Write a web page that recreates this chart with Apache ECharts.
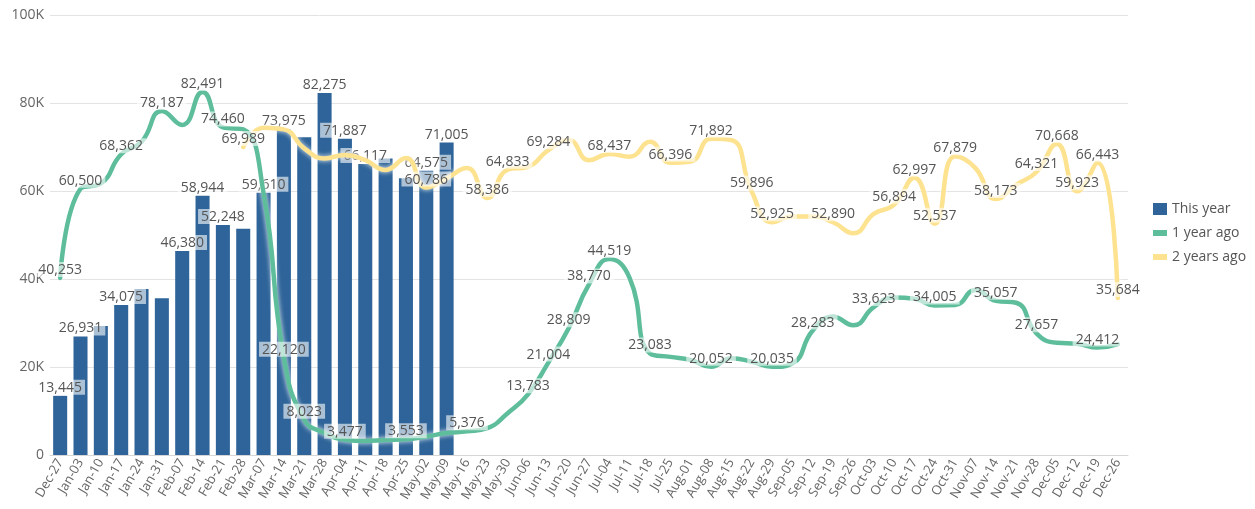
<!DOCTYPE html>
<html>
<head>
<meta charset="utf-8">
<script src="https://cdn.jsdelivr.net/npm/echarts@6/dist/echarts.min.js"></script>
<style>
  html, body { margin: 0; padding: 0; background: #fff; }
  #main { width: 1255px; height: 509px; }
</style>
</head>
<body>
<div id="main"></div>
<script>
// 周次
var weeks = ['Dec-27', 'Jan-03', 'Jan-10', 'Jan-17', 'Jan-24', 'Jan-31', 'Feb-07', 'Feb-14', 'Feb-21', 'Feb-28',
    'Mar-07', 'Mar-14', 'Mar-21', 'Mar-28', 'Apr-04', 'Apr-11', 'Apr-18', 'Apr-25', 'May-02', 'May-09',
    'May-16', 'May-23', 'May-30', 'Jun-06', 'Jun-13', 'Jun-20', 'Jun-27', 'Jul-04', 'Jul-11', 'Jul-18',
    'Jul-25', 'Aug-01', 'Aug-08', 'Aug-15', 'Aug-22', 'Aug-29', 'Sep-05', 'Sep-12', 'Sep-19', 'Sep-26',
    'Oct-03', 'Oct-10', 'Oct-17', 'Oct-24', 'Oct-31', 'Nov-07', 'Nov-14', 'Nov-21', 'Nov-28', 'Dec-05',
    'Dec-12', 'Dec-19', 'Dec-26'];

var thisYear = [13445, 26931, 29300, 34075, 37700, 35600, 46380, 58944, 52248, 51400,
    59610, 73975, 72200, 82275, 71887, 66117, 67400, 62900, 64575, 71005];

var oneYearAgo = [40253, 60500, 61700, 68362, 71200, 78187, 75000, 82491, 74460, 74000,
    59500, 22120, 8023, 5000, 3477, 3200, 3400, 3553, 4200, 5000,
    5376, 6100, 9500, 13783, 21004, 28809, 38770, 44519, 40200, 23083,
    22300, 21600, 20052, 22000, 21200, 20035, 20800, 28283, 31400, 29500,
    33623, 35800, 35500, 34005, 34100, 37500, 35057, 34600, 27657, 25500,
    25300, 24412, 25200];

var twoYearsAgo = ['-', '-', '-', '-', '-', '-', '-', '-', '-', 69989,
    74400, 74000, 69700, 67400, 68200, 67000, 64800, 67500, 60786, 62900,
    65200, 58386, 64833, 65500, 69284, 71600, 67000, 68437, 67800, 71200,
    66396, 66700, 71892, 71600, 59896, 52925, 54200, 54200, 52890, 50400,
    54800, 56894, 62997, 52537, 67879, 65200, 58173, 61400, 64321, 70668,
    59923, 66443, 35684];

// 显示数值标签的位置
var thisYearLabels = [0, 1, 3, 6, 7, 8, 10, 11, 13, 14, 15, 18, 19];
var oneYearLabels = [0, 1, 3, 5, 7, 8, 11, 12, 14, 17, 20, 23, 24, 25, 26, 27, 29, 32, 35, 37, 40, 43, 46, 48, 51];
var twoYearsLabels = [9, 18, 21, 22, 24, 27, 30, 32, 34, 35, 38, 41, 42, 43, 44, 46, 48, 49, 50, 51, 52];

var FONT = '"Open Sans", "Noto Sans", sans-serif';

// 给指定的点加标签
function withLabels(values, idx) {
    return values.map(function (v, i) {
        if (idx.indexOf(i) >= 0 && v !== '-') {
            return {value: v, label: {show: true}};
        }
        return v;
    });
}

var pointLabel = {
    position: 'top',
    distance: 1,
    color: '#555',
    fontSize: 14,
    fontFamily: FONT,
    backgroundColor: 'rgba(255,255,255,0.6)',
    padding: [1, 3, 0, 3],
    formatter: function (p) {
        return echarts.format.addCommas(p.value);
    }
};

function lineSeries(name, color, values, idx) {
    return {
        name: name,
        type: 'line',
        smooth: 0.5,
        symbol: 'circle',
        symbolSize: 0,
        showSymbol: true,
        lineStyle: {
            color: color,
            width: 4.5,
            cap: 'round',
            shadowColor: 'rgba(255,255,255,0.9)',
            shadowBlur: 5
        },
        itemStyle: {color: color},
        label: pointLabel,
        z: 3,
        data: withLabels(values, idx)
    };
}

var chart = echarts.init(document.getElementById('main'));
chart.setOption({
    animation: false,
    textStyle: {fontFamily: FONT},
    legend: {
        orient: 'vertical',
        left: 1148,
        top: 197,
        itemWidth: 14,
        itemHeight: 12,
        itemGap: 10,
        textStyle: {color: '#555', fontSize: 14, fontFamily: FONT},
        data: [
            {name: 'This year', icon: 'rect'},
            {name: '1 year ago', icon: 'path://M0,3h14v6h-14z'},
            {name: '2 years ago', icon: 'path://M0,3h14v6h-14z'}
        ]
    },
    grid: {
        left: 50,
        right: 127,
        top: 15,
        bottom: 54
    },
    xAxis: {
        type: 'category',
        data: weeks,
        axisTick: {show: false},
        axisLine: {lineStyle: {color: '#d6d6d6', width: 1}},
        axisLabel: {
            rotate: 60,
            interval: 0,
            color: '#666',
            fontSize: 13,
            fontFamily: FONT,
            margin: 5
        }
    },
    yAxis: {
        type: 'value',
        min: 0,
        max: 100000,
        interval: 20000,
        axisLine: {show: false},
        axisTick: {show: false},
        splitLine: {lineStyle: {color: '#e3e3e3', width: 1}},
        axisLabel: {
            color: '#666',
            fontSize: 14,
            fontFamily: FONT,
            margin: 6,
            formatter: function (v) {
                return v === 0 ? '0' : (v / 1000) + 'K';
            }
        }
    },
    series: [
        {
            name: 'This year',
            type: 'bar',
            barCategoryGap: '31%',
            itemStyle: {color: '#2e6499'},
            label: pointLabel,
            z: 2,
            data: withLabels(thisYear, thisYearLabels)
        },
        lineSeries('2 years ago', '#fde28f', twoYearsAgo, twoYearsLabels),
        lineSeries('1 year ago', '#5ebe9b', oneYearAgo, oneYearLabels)
    ]
});
</script>
</body>
</html>
